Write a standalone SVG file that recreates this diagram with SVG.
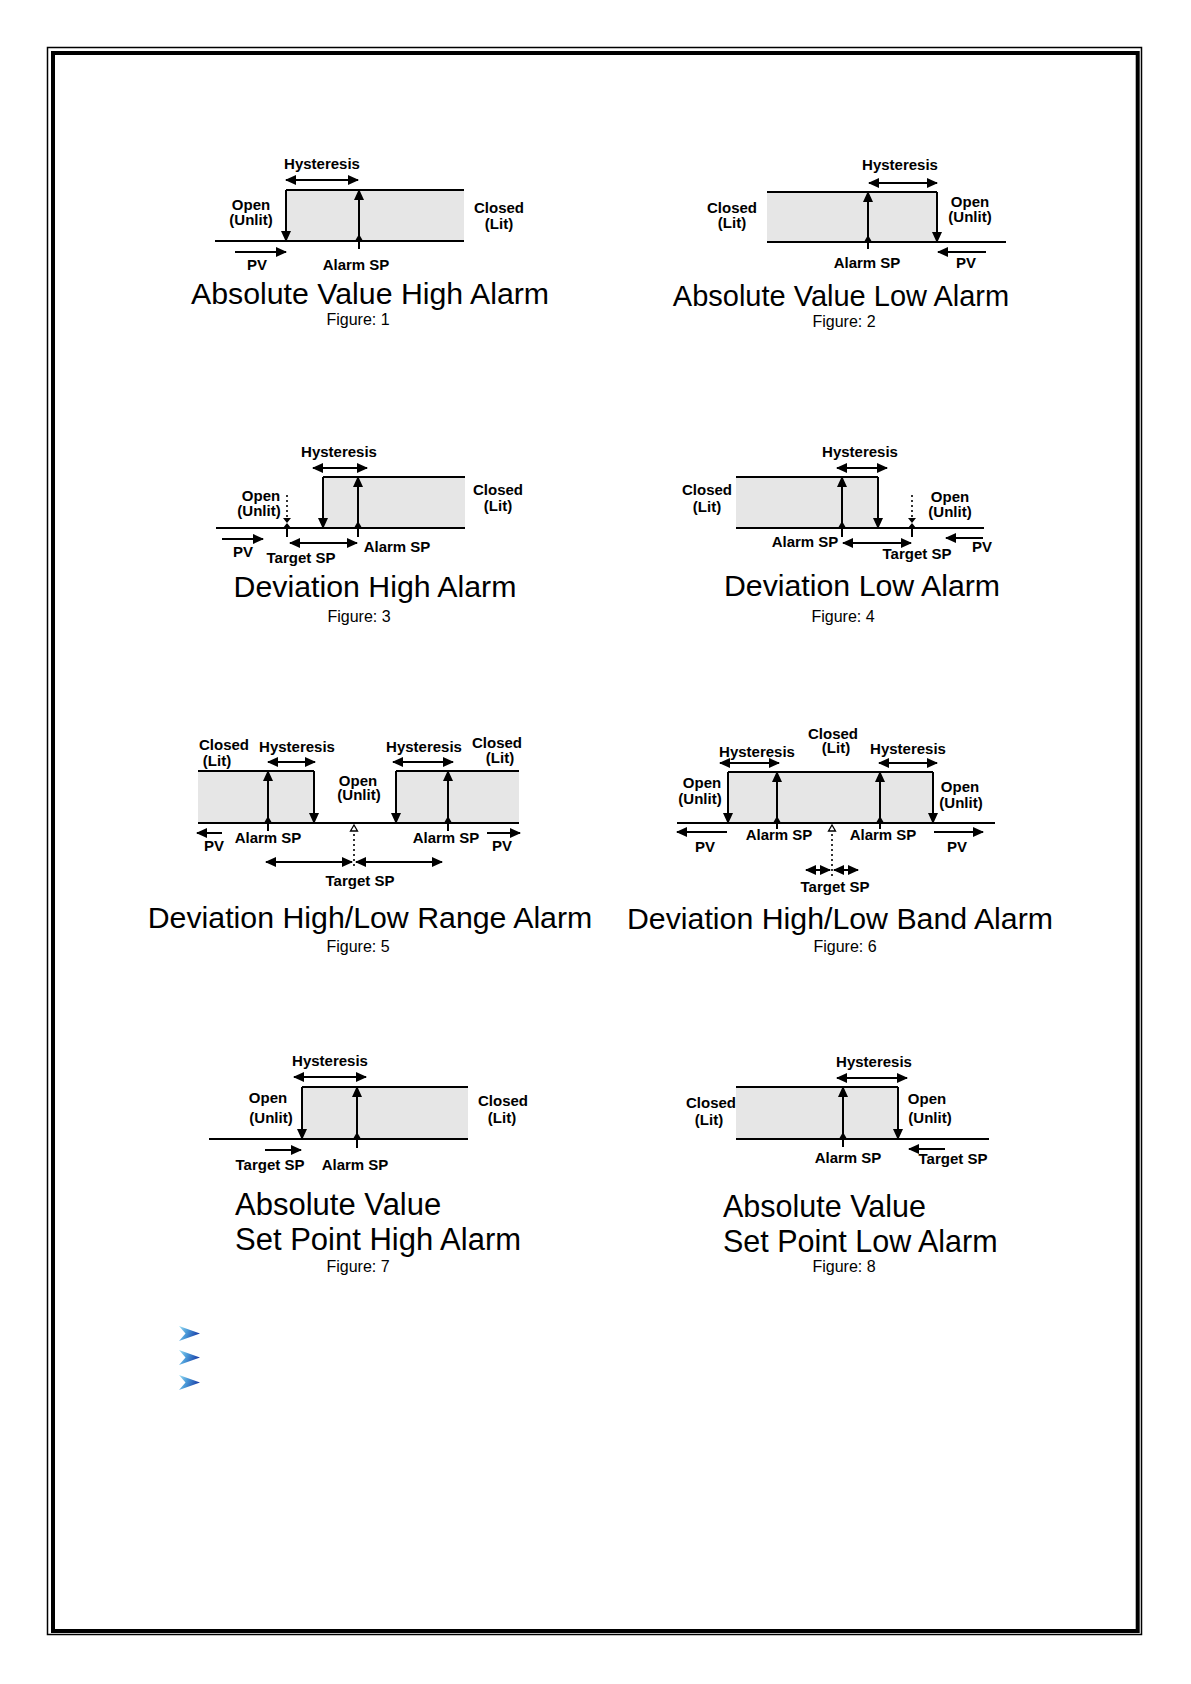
<svg xmlns="http://www.w3.org/2000/svg" xmlns:xlink="http://www.w3.org/1999/xlink" width="1191" height="1684" viewBox="0 0 1191 1684">
<style>
.ln{stroke:#000;stroke-width:2;fill:none}
.ar{stroke:#000;stroke-width:2;fill:none;marker-end:url(#ah)}
.da{stroke:#000;stroke-width:2;fill:none;marker-start:url(#ah);marker-end:url(#ah)}
.dot{stroke:#000;stroke-width:1.6;stroke-dasharray:2 3;fill:none}
.box{fill:#e6e6e6;stroke:none}
.tri{fill:#000}
.htri{fill:#fff;stroke:#000;stroke-width:1.3}
text{font-family:"Liberation Sans",Arial,sans-serif;fill:#000}
.lb{font-size:15px;font-weight:bold;text-anchor:middle}
.tt{font-size:30.3px;text-anchor:middle}
.tl{font-size:30.5px;text-anchor:start}
.fg{font-size:16px;text-anchor:middle}
</style>
<defs>
<marker id="ah" viewBox="0 0 11 10" refX="10" refY="5" markerWidth="11" markerHeight="10" markerUnits="userSpaceOnUse" orient="auto-start-reverse">
<path d="M0,0 L11,5 L0,10 z" fill="#000"/>
</marker>
<linearGradient id="bg" x1="0" y1="0" x2="1" y2="0.3">
<stop offset="0" stop-color="#9ee0f4"/>
<stop offset="0.45" stop-color="#4a9ad8"/>
<stop offset="1" stop-color="#1b3fa8"/>
</linearGradient>
<path id="chev" d="M0,0 L21,7.5 L0,15 L6.5,7.5 z" fill="url(#bg)"/>
</defs>
<rect width="1191" height="1684" fill="#fff"/>
<g id="page-border">
<rect x="47.5" y="47.5" width="1094" height="1587" fill="none" stroke="#000" stroke-width="1.5"/>
<rect x="53" y="53" width="1084.7" height="1578" fill="none" stroke="#000" stroke-width="4"/>
</g>

<!-- Figure 1 -->
<g id="fig1">
<g id="fig1-state">
<rect class="box" x="286" y="190" width="178" height="51"/>
<path class="ln" d="M286,190 H464 M215,241 H464"/>
</g>
<g id="fig1-connectors">
<line class="ar" x1="286" y1="190" x2="286" y2="241"/>
<line class="ar" x1="359" y1="249" x2="359" y2="190"/>
<polygon class="tri" points="355,241 363,241 359,234"/>
<line class="da" x1="286" y1="180" x2="358" y2="180"/>
<line class="ar" x1="235" y1="252" x2="286" y2="252"/>
</g>
<g id="fig1-labels">
<text class="lb" x="322" y="169">Hysteresis</text>
<text class="lb" x="251" y="210">Open</text>
<text class="lb" x="251" y="225">(Unlit)</text>
<text class="lb" x="499" y="213">Closed</text>
<text class="lb" x="499" y="229">(Lit)</text>
<text class="lb" x="257" y="270">PV</text>
<text class="lb" x="356" y="270">Alarm SP</text>
<text class="tt" x="370" y="304">Absolute Value High Alarm</text>
<text class="fg" x="358" y="325">Figure: 1</text>
</g>
</g>

<!-- Figure 2 -->
<g id="fig2">
<g id="fig2-state">
<rect class="box" x="767" y="192" width="170" height="50"/>
<path class="ln" d="M767,192 H937 M767,242 H1006"/>
</g>
<g id="fig2-connectors">
<line class="ar" x1="937" y1="192" x2="937" y2="242"/>
<line class="ar" x1="868" y1="249" x2="868" y2="192"/>
<polygon class="tri" points="864,242 872,242 868,235"/>
<line class="da" x1="869" y1="183" x2="937" y2="183"/>
<line class="ar" x1="986" y1="252" x2="938" y2="252"/>
</g>
<g id="fig2-labels">
<text class="lb" x="900" y="170">Hysteresis</text>
<text class="lb" x="732" y="213">Closed</text>
<text class="lb" x="732" y="228">(Lit)</text>
<text class="lb" x="970" y="207">Open</text>
<text class="lb" x="970" y="222">(Unlit)</text>
<text class="lb" x="966" y="268">PV</text>
<text class="lb" x="867" y="268">Alarm SP</text>
<text class="tt" x="841" y="306" style="font-size:29px">Absolute Value Low Alarm</text>
<text class="fg" x="844" y="327">Figure: 2</text>
</g>
</g>

<!-- Figure 3 -->
<g id="fig3">
<g id="fig3-state">
<rect class="box" x="323" y="477" width="142" height="51"/>
<path class="ln" d="M323,477 H465 M216,528 H465"/>
</g>
<g id="fig3-connectors">
<line class="ar" x1="323" y1="477" x2="323" y2="528"/>
<line class="ar" x1="358" y1="537" x2="358" y2="477"/>
<polygon class="tri" points="354,528 362,528 358,521"/>
<line class="da" x1="313" y1="468" x2="367" y2="468"/>
<line class="dot" x1="287" y1="495" x2="287" y2="517"/>
<polygon class="tri" points="283,518 291,518 287,523 283,528 291,528"/>
<line class="ln" x1="287" y1="528" x2="287" y2="537"/>
<line class="da" x1="290" y1="543" x2="357" y2="543"/>
<line class="ar" x1="222" y1="539" x2="263" y2="539"/>
</g>
<g id="fig3-labels">
<text class="lb" x="339" y="457">Hysteresis</text>
<text class="lb" x="261" y="501">Open</text>
<text class="lb" x="259" y="516">(Unlit)</text>
<text class="lb" x="498" y="495">Closed</text>
<text class="lb" x="498" y="511">(Lit)</text>
<text class="lb" x="243" y="557">PV</text>
<text class="lb" x="301" y="563">Target SP</text>
<text class="lb" x="397" y="552">Alarm SP</text>
<text class="tt" x="375" y="597">Deviation High Alarm</text>
<text class="fg" x="359" y="622">Figure: 3</text>
</g>
</g>

<!-- Figure 4 -->
<g id="fig4">
<g id="fig4-state">
<rect class="box" x="736" y="477" width="142" height="51"/>
<path class="ln" d="M736,477 H878 M736,528 H984"/>
</g>
<g id="fig4-connectors">
<line class="ar" x1="878" y1="477" x2="878" y2="528"/>
<line class="ar" x1="842" y1="537" x2="842" y2="477"/>
<polygon class="tri" points="838,528 846,528 842,521"/>
<line class="da" x1="837" y1="468" x2="887" y2="468"/>
<line class="dot" x1="912" y1="495" x2="912" y2="517"/>
<polygon class="tri" points="908,518 916,518 912,523 908,528 916,528"/>
<line class="ln" x1="912" y1="528" x2="912" y2="537"/>
<line class="da" x1="843" y1="543" x2="911" y2="543"/>
<line class="ar" x1="983" y1="538" x2="946" y2="538"/>
</g>
<g id="fig4-labels">
<text class="lb" x="860" y="457">Hysteresis</text>
<text class="lb" x="707" y="495">Closed</text>
<text class="lb" x="707" y="512">(Lit)</text>
<text class="lb" x="950" y="502">Open</text>
<text class="lb" x="950" y="517">(Unlit)</text>
<text class="lb" x="982" y="552">PV</text>
<text class="lb" x="805" y="547">Alarm SP</text>
<text class="lb" x="917" y="559">Target SP</text>
<text class="tt" x="862" y="596">Deviation Low Alarm</text>
<text class="fg" x="843" y="622">Figure: 4</text>
</g>
</g>

<!-- Figure 5 -->
<g id="fig5">
<g id="fig5-state">
<rect class="box" x="198" y="771" width="116" height="52"/>
<rect class="box" x="396" y="771" width="123" height="52"/>
<path class="ln" d="M198,771 H314 M396,771 H519 M198,823 H519"/>
</g>
<g id="fig5-connectors">
<line class="ar" x1="314" y1="771" x2="314" y2="823"/>
<line class="ar" x1="396" y1="771" x2="396" y2="823"/>
<line class="ar" x1="268" y1="831" x2="268" y2="771"/>
<polygon class="tri" points="264,823 272,823 268,816"/>
<line class="ar" x1="448" y1="831" x2="448" y2="771"/>
<polygon class="tri" points="444,823 452,823 448,816"/>
<line class="da" x1="268" y1="762" x2="315" y2="762"/>
<line class="da" x1="393" y1="762" x2="453" y2="762"/>
<polygon class="htri" points="350.5,831 357.5,831 354,825"/>
<line class="dot" x1="354" y1="834" x2="354" y2="868"/>
<line class="da" x1="266" y1="862" x2="352" y2="862"/>
<line class="da" x1="356" y1="862" x2="442" y2="862"/>
<line class="ar" x1="222" y1="833" x2="197" y2="833"/>
<line class="ar" x1="487" y1="833" x2="520" y2="833"/>
</g>
<g id="fig5-labels">
<text class="lb" x="224" y="750">Closed</text>
<text class="lb" x="217" y="766">(Lit)</text>
<text class="lb" x="297" y="752">Hysteresis</text>
<text class="lb" x="424" y="752">Hysteresis</text>
<text class="lb" x="497" y="748">Closed</text>
<text class="lb" x="500" y="763">(Lit)</text>
<text class="lb" x="358" y="786">Open</text>
<text class="lb" x="359" y="800">(Unlit)</text>
<text class="lb" x="214" y="851">PV</text>
<text class="lb" x="268" y="843">Alarm SP</text>
<text class="lb" x="446" y="843">Alarm SP</text>
<text class="lb" x="502" y="851">PV</text>
<text class="lb" x="360" y="886">Target SP</text>
<text class="tt" x="370" y="928">Deviation High/Low Range Alarm</text>
<text class="fg" x="358" y="952">Figure: 5</text>
</g>
</g>

<!-- Figure 6 -->
<g id="fig6">
<g id="fig6-state">
<rect class="box" x="728" y="772" width="205" height="51"/>
<path class="ln" d="M728,772 H933 M677,823 H995"/>
</g>
<g id="fig6-connectors">
<line class="ar" x1="728" y1="772" x2="728" y2="823"/>
<line class="ar" x1="933" y1="772" x2="933" y2="823"/>
<line class="ar" x1="777" y1="829" x2="777" y2="772"/>
<polygon class="tri" points="773,823 781,823 777,816"/>
<line class="ar" x1="880" y1="829" x2="880" y2="772"/>
<polygon class="tri" points="876,823 884,823 880,816"/>
<line class="da" x1="720" y1="763" x2="779" y2="763"/>
<line class="da" x1="879" y1="763" x2="937" y2="763"/>
<polygon class="htri" points="828.5,831 835.5,831 832,825"/>
<line class="dot" x1="832" y1="834" x2="832" y2="878"/>
<line class="da" x1="806" y1="870" x2="830" y2="870"/>
<line class="da" x1="834" y1="870" x2="858" y2="870"/>
<line class="ar" x1="727" y1="832" x2="677" y2="832"/>
<line class="ar" x1="934" y1="832" x2="983" y2="832"/>
</g>
<g id="fig6-labels">
<text class="lb" x="833" y="739">Closed</text>
<text class="lb" x="836" y="753">(Lit)</text>
<text class="lb" x="757" y="757">Hysteresis</text>
<text class="lb" x="908" y="754">Hysteresis</text>
<text class="lb" x="702" y="788">Open</text>
<text class="lb" x="700" y="804">(Unlit)</text>
<text class="lb" x="960" y="792">Open</text>
<text class="lb" x="961" y="808">(Unlit)</text>
<text class="lb" x="779" y="840">Alarm SP</text>
<text class="lb" x="883" y="840">Alarm SP</text>
<text class="lb" x="705" y="852">PV</text>
<text class="lb" x="957" y="852">PV</text>
<text class="lb" x="835" y="892">Target SP</text>
<text class="tt" x="840" y="929">Deviation High/Low Band Alarm</text>
<text class="fg" x="845" y="952">Figure: 6</text>
</g>
</g>

<!-- Figure 7 -->
<g id="fig7">
<g id="fig7-state">
<rect class="box" x="302" y="1087" width="166" height="52"/>
<path class="ln" d="M302,1087 H468 M209,1139 H468"/>
</g>
<g id="fig7-connectors">
<line class="ar" x1="302" y1="1087" x2="302" y2="1139"/>
<line class="ar" x1="357" y1="1148" x2="357" y2="1087"/>
<polygon class="tri" points="353,1139 361,1139 357,1132"/>
<line class="da" x1="294" y1="1077" x2="366" y2="1077"/>
<line class="ar" x1="265" y1="1150" x2="301" y2="1150"/>
</g>
<g id="fig7-labels">
<text class="lb" x="330" y="1066">Hysteresis</text>
<text class="lb" x="268" y="1103">Open</text>
<text class="lb" x="271" y="1123">(Unlit)</text>
<text class="lb" x="503" y="1106">Closed</text>
<text class="lb" x="502" y="1123">(Lit)</text>
<text class="lb" x="270" y="1170">Target SP</text>
<text class="lb" x="355" y="1170">Alarm SP</text>
<text class="tl" x="235" y="1215" style="font-size:31px">Absolute Value</text>
<text class="tl" x="235" y="1250" style="font-size:31px">Set Point High Alarm</text>
<text class="fg" x="358" y="1272">Figure: 7</text>
</g>
</g>

<!-- Figure 8 -->
<g id="fig8">
<g id="fig8-state">
<rect class="box" x="736" y="1087" width="162" height="52"/>
<path class="ln" d="M736,1087 H898 M736,1139 H989"/>
</g>
<g id="fig8-connectors">
<line class="ar" x1="898" y1="1087" x2="898" y2="1139"/>
<line class="ar" x1="843" y1="1147" x2="843" y2="1087"/>
<polygon class="tri" points="839,1139 847,1139 843,1132"/>
<line class="da" x1="837" y1="1078" x2="907" y2="1078"/>
<line class="ar" x1="945" y1="1149" x2="909" y2="1149"/>
</g>
<g id="fig8-labels">
<text class="lb" x="874" y="1067">Hysteresis</text>
<text class="lb" x="711" y="1108">Closed</text>
<text class="lb" x="709" y="1125">(Lit)</text>
<text class="lb" x="927" y="1104">Open</text>
<text class="lb" x="930" y="1123">(Unlit)</text>
<text class="lb" x="848" y="1163">Alarm SP</text>
<text class="lb" x="953" y="1164">Target SP</text>
<text class="tl" x="723" y="1217">Absolute Value</text>
<text class="tl" x="723" y="1252">Set Point Low Alarm</text>
<text class="fg" x="844" y="1272">Figure: 8</text>
</g>
</g>

<g id="bullets">
<use xlink:href="#chev" x="179" y="1326"/>
<use xlink:href="#chev" x="179" y="1350"/>
<use xlink:href="#chev" x="179" y="1375"/>
</g>
</svg>
